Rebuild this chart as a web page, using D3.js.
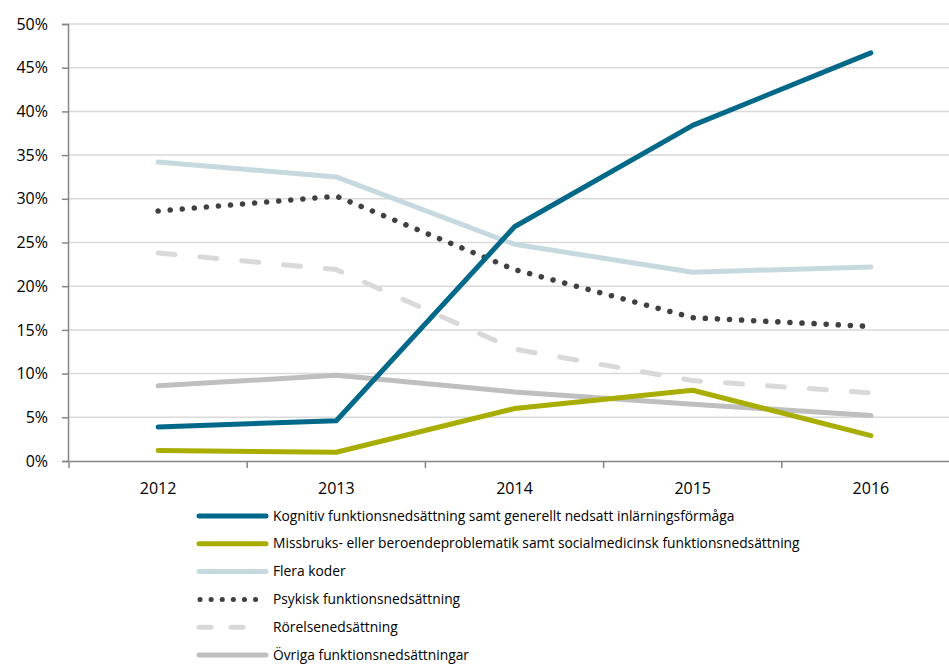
<!DOCTYPE html>
<html>
<head>
<meta charset="utf-8">
<script src="https://cdn.jsdelivr.net/npm/d3@7"></script>
<style>
body { margin: 0; background: #fff; }
text { font-family: "Open Sans", "DejaVu Sans", sans-serif; fill: #000; }
</style>
</head>
<body>
<div id="chart"></div>
<script>
var years = ["2012", "2013", "2014", "2015", "2016"];
var yTicks = [0, 0.05, 0.1, 0.15, 0.2, 0.25, 0.3, 0.35, 0.4, 0.45, 0.5];

var kognitiv = [0.039, 0.046, 0.268, 0.384, 0.467];
var missbruk = [0.012, 0.010, 0.060, 0.081, 0.029];
var flera = [0.342, 0.325, 0.248, 0.216, 0.222];
var psykisk = [0.286, 0.303, 0.219, 0.164, 0.154];
var rorelse = [0.238, 0.219, 0.128, 0.092, 0.078];
var ovriga = [0.086, 0.098, 0.079, 0.065, 0.052];

var seriesNames = [
    "Kognitiv funktionsnedsättning samt generellt nedsatt inlärningsförmåga",
    "Missbruks- eller beroendeproblematik samt socialmedicinsk funktionsnedsättning",
    "Flera koder",
    "Psykisk funktionsnedsättning",
    "Rörelsenedsättning",
    "Övriga funktionsnedsättningar"
];

var series = [
    {name: seriesNames[0], values: kognitiv, color: "#00698a", type: "solid"},
    {name: seriesNames[1], values: missbruk, color: "#a8ad00", type: "solid"},
    {name: seriesNames[2], values: flera, color: "#c6d9de", type: "solid"},
    {name: seriesNames[3], values: psykisk, color: "#404040", type: "dot"},
    {name: seriesNames[4], values: rorelse, color: "#d9d9d9", type: "dash"},
    {name: seriesNames[5], values: ovriga, color: "#bfbfbf", type: "solid"}
];

var dashes = {solid: null, dot: "0.1,12", dash: "17,25"};
var legendDashes = {solid: null, dot: "0.1,11", dash: "12,20"};

var width = 949, height = 664;
var svg = d3.select("#chart").append("svg").attr("width", width).attr("height", height);

var x = d3.scaleBand().domain(years).range([69, 960]);
var y = d3.scaleLinear().domain([0, 0.5]).range([461, 24]);

// gridlines
svg.append("g").selectAll("line").data(yTicks.slice(1)).enter().append("line")
    .attr("x1", 68).attr("x2", 960)
    .attr("y1", function(d) { return y(d); })
    .attr("y2", function(d) { return y(d); })
    .attr("stroke", "#d9d9d9")
    .attr("stroke-width", 1.5);

// y axis
var yAxis = svg.append("g").attr("transform", "translate(68,0)")
    .call(d3.axisLeft(y).tickValues(yTicks).tickFormat(d3.format(".0%")).tickSize(6).tickPadding(14));
yAxis.select(".domain").attr("stroke", "#868686").attr("stroke-width", 1.5);
yAxis.selectAll(".tick line").attr("stroke", "#868686").attr("stroke-width", 1.5);
yAxis.selectAll("text").attr("font-size", "16px").attr("fill", "#000")
    .attr("font-family", "'Open Sans', sans-serif");

// x axis
var xAxis = svg.append("g").attr("transform", "translate(0,461)")
    .call(d3.axisBottom(x).tickSize(0).tickPadding(22));
xAxis.select(".domain").attr("stroke", "#868686").attr("stroke-width", 1.5);
xAxis.selectAll("text").attr("font-size", "16px").attr("fill", "#000")
    .attr("font-family", "'Open Sans', sans-serif");
xAxis.selectAll("line.band").data(years).enter().append("line")
    .attr("class", "band")
    .attr("x1", function(d) { return x(d); })
    .attr("x2", function(d) { return x(d); })
    .attr("y1", 0).attr("y2", 7)
    .attr("stroke", "#868686").attr("stroke-width", 1.5);

var line = d3.line()
    .x(function(d, i) { return x(years[i]) + x.bandwidth() / 2; })
    .y(function(d) { return y(d); });

// draw order so that the overlaps look like the original
var order = [4, 5, 2, 3, 1, 0];
order.forEach(function(k) {
    var s = series[k];
    svg.append("path")
        .attr("d", line(s.values))
        .attr("fill", "none")
        .attr("stroke", s.color)
        .attr("stroke-width", s.type == "dot" ? 5.5 : 5)
        .attr("stroke-linecap", "round")
        .attr("stroke-linejoin", "round")
        .attr("stroke-dasharray", dashes[s.type]);
});

// legend
var legend = svg.append("g");
series.forEach(function(s, i) {
    var ly = 516 + i * 27.8;
    legend.append("line")
        .attr("x1", s.type == "dot" ? 200 : 199)
        .attr("x2", s.type == "dash" ? 245 : 266)
        .attr("y1", ly).attr("y2", ly)
        .attr("stroke", s.color)
        .attr("stroke-width", 5)
        .attr("stroke-linecap", "round")
        .attr("stroke-dasharray", legendDashes[s.type]);
    legend.append("text")
        .attr("x", 273)
        .attr("y", ly + 4.5)
        .attr("font-size", "13.8px")
        .attr("font-family", "'Open Sans', sans-serif")
        .text(s.name);
});
</script>
</body>
</html>
